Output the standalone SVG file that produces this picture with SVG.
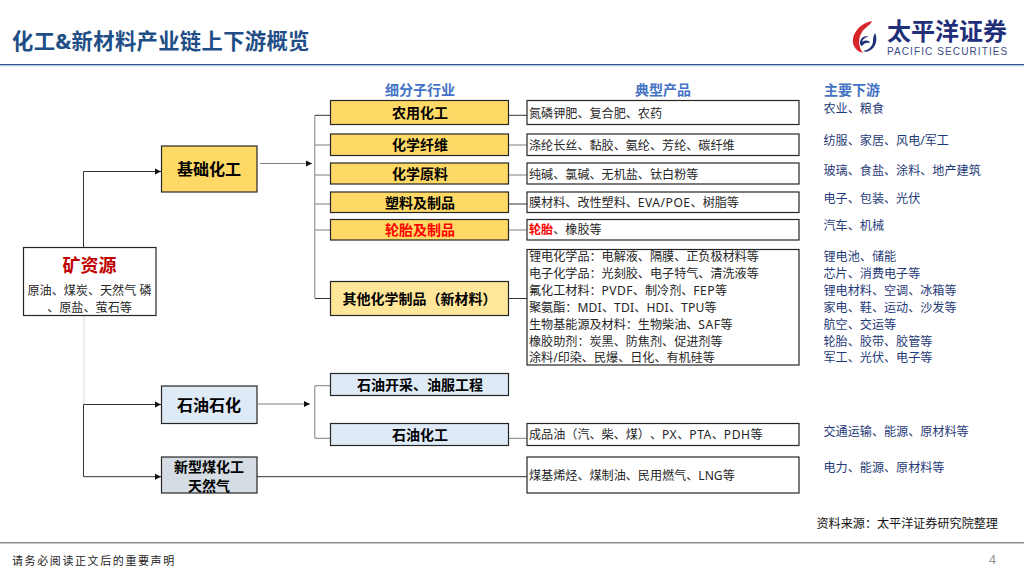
<svg xmlns="http://www.w3.org/2000/svg" width="1024" height="576" viewBox="0 0 1024 576">
<style>
text{font-family:"Noto Sans","Noto Sans CJK SC",sans-serif;font-size:12.1px;fill:#262626;text-spacing-trim:space-all}
.title{font-size:21.3px;font-weight:700;fill:#1F4E86;letter-spacing:.35px}
.hd{font-size:14px;font-weight:700;fill:#4472C4;text-anchor:middle}
.n{font-size:14px;font-weight:700;fill:#000;text-anchor:middle}
.m{font-size:16px;font-weight:700;fill:#000;text-anchor:middle}
.d{fill:#1F3A78}
.box{stroke:#262626;stroke-width:1.2}
.y{fill:#FFD966}.ly{fill:#FFE699}.b{fill:#DEEAF6}.g{fill:#D5DCE4}.w{fill:#fff}
.c{fill:none;stroke:#333;stroke-width:1}
.c2{fill:none;stroke:#808080;stroke-width:1}
</style>
<defs><marker id="a" markerUnits="userSpaceOnUse" markerWidth="7" markerHeight="7" refX="6" refY="3.5" orient="auto"><path d="M0 .5L6 3.5L0 6.500Z" fill="#111"/></marker></defs>
<rect width="1024" height="576" fill="#fff"/>
<text class="title" x="12" y="48.500">化工&amp;新材料产业链上下游概览</text>
<rect x="0" y="64" width="1024" height="1.300" fill="#2F5597"/><rect x="0" y="65.300" width="1024" height="1" fill="#B4C7E7"/>
<g id="logo">
<path d="M872 21C858 24 850 36 854 46C856 50 859 52 863 53C858 47 858 38 862 32C865 27 870 26 872 21Z" fill="#D7252B"/>
<path d="M875 33C878 39 876 48 869 51C867 52 865 52 863 51C869 50 873 46 873 41C873 37 874 35 875 33Z" fill="#1F2F7A"/>
<path d="M860 43C860 38 865 35 869 37C865 37 863 39 862 42C865 40 869 40 870 43C867 42 864 43 862 46C861 46 860 45 860 43Z" fill="#1F2F7A"/>
<text x="887" y="40" style="font-size:24px;font-weight:700;fill:#1F2F7A;font-family:'Noto Sans CJK SC',sans-serif">太平洋证券</text>
<text x="887" y="54.500" style="font-size:10px;fill:#3A4A86;letter-spacing:1.100px;font-family:'Liberation Sans',sans-serif">PACIFIC SECURITIES</text>
</g>
<text class="hd" x="420" y="95">细分子行业</text>
<text class="hd" x="663" y="95">典型产品</text>
<text class="hd" x="852" y="95">主要下游</text>
<g id="connectors">
<path class="c" d="M83.500 247V171.500H161" marker-end="url(#a)"/>
<path d="M84 315.500V404" fill="none" stroke="#EDEDED" stroke-width="2"/>
<path class="c" d="M83.500 404.500V476.700H161" marker-end="url(#a)"/>
<path class="c" d="M83.500 404.500H161" marker-end="url(#a)"/>
<path class="c2" d="M260 163.500H312" marker-end="url(#a)"/>
<path class="c2" d="M258 404H310" marker-end="url(#a)"/>
<path class="c2" d="M314.800 115.300V298.500"/>
<path class="c" d="M315 115.300H330M315 298.500H330"/>
<path class="c2" d="M315 145H330M315 175H330M315 204H330M315 230H330"/>
<path class="c2" d="M314.800 385.700V438.300M315 385.700H330M315 438.300H330"/>
<path class="c" d="M509 115.300H527M509 204H527M509 298.500H527"/>
<path class="c2" d="M509 145H527M509 175H527M509 230H527M509 438.300H527"/>
<path class="c" d="M257 476.700H527"/>
</g>
<g id="n-source"><rect class="box w" x="23.500" y="247.500" width="132.500" height="68"/><text class="m" x="89.500" y="271.500" style="fill:#C00000;font-size:18px">矿资源</text><text x="89.500" y="295" text-anchor="middle">原油、煤炭、天然气 磷</text><text x="89.500" y="311.500" text-anchor="middle">、原盐、萤石等</text></g>
<g id="n-basic"><rect class="box y" x="161.500" y="146" width="95.500" height="46"/><text class="m" x="209" y="174.500">基础化工</text></g>
<g id="n-petro"><rect class="box b" x="161.500" y="386" width="95.500" height="37.500"/><text class="m" x="209" y="410.500">石油石化</text></g>
<g id="n-coal"><rect class="box g" x="161.500" y="457" width="95.500" height="36"/><text class="n" x="209" y="471.500">新型煤化工</text><text class="n" x="209" y="490.500">天然气</text></g>
<g id="n-agri"><rect class="box y" x="330.500" y="100.500" width="178" height="24"/><text class="n" x="420" y="118">农用化工</text></g>
<g id="n-fiber"><rect class="box y" x="330.500" y="134" width="178" height="21.500"/><text class="n" x="420" y="150">化学纤维</text></g>
<g id="n-raw"><rect class="box y" x="330.500" y="163" width="178" height="21"/><text class="n" x="420" y="179">化学原料</text></g>
<g id="n-plastic"><rect class="box y" x="330.500" y="192" width="178" height="20.500"/><text class="n" x="420" y="207.500">塑料及制品</text></g>
<g id="n-tire"><rect class="box y" x="330.500" y="219.500" width="178" height="20.500"/><text class="n" x="420" y="235" style="fill:#FF0000">轮胎及制品</text></g>
<g id="n-other"><rect class="box ly" x="330.500" y="281.500" width="178" height="34"/><text class="n" x="419.500" y="304">其他化学制品（新材料）</text></g>
<g id="n-oilex"><rect class="box b" x="330.500" y="373.500" width="178" height="22"/><text class="n" x="420" y="389.500">石油开采、油服工程</text></g>
<g id="n-oilchem"><rect class="box b" x="330.500" y="423.500" width="178" height="22"/><text class="n" x="420" y="440">石油化工</text></g>
<g id="p-agri"><rect class="box w" x="527" y="100.500" width="272" height="24"/><text x="529" y="118">氮磷钾肥、复合肥、农药</text></g>
<g id="p-fiber"><rect class="box w" x="527" y="134" width="272" height="21.500"/><text x="529" y="149.500">涤纶长丝、黏胶、氨纶、芳纶、碳纤维</text></g>
<g id="p-raw"><rect class="box w" x="527" y="163" width="272" height="21"/><text x="529" y="178.500">纯碱、氯碱、无机盐、钛白粉等</text></g>
<g id="p-plastic"><rect class="box w" x="527" y="192" width="272" height="20.500"/><text x="529" y="206.500">膜材料、改性塑料、<tspan style="letter-spacing:.5px">EVA/POE</tspan>、树脂等</text></g>
<g id="p-tire"><rect class="box w" x="527" y="219.500" width="272" height="20.500"/><text x="529" y="234"><tspan style="fill:#FF0000;font-weight:700">轮胎</tspan>、橡胶等</text></g>
<g id="p-other"><rect class="box w" x="527" y="249.500" width="272" height="115.500"/>
<text x="529" y="261">锂电化学品：电解液、隔膜、正负极材料等</text>
<text x="529" y="278">电子化学品：光刻胶、电子特气、清洗液等</text>
<text x="529" y="295">氟化工材料：<tspan style="letter-spacing:.4px">PVDF</tspan>、制冷剂、<tspan style="letter-spacing:.4px">FEP</tspan>等</text>
<text x="529" y="312">聚氨酯：<tspan style="letter-spacing:.2px">MDI</tspan>、<tspan style="letter-spacing:.2px">TDI</tspan>、<tspan style="letter-spacing:.2px">HDI</tspan>、<tspan style="letter-spacing:.2px">TPU</tspan>等</text>
<text x="529" y="328.500">生物基能源及材料：生物柴油、<tspan style="letter-spacing:.5px">SAF</tspan>等</text>
<text x="529" y="345.500">橡胶助剂：炭黑、防焦剂、促进剂等</text>
<text x="529" y="362">涂料/印染、民爆、日化、有机硅等</text></g>
<g id="p-oilchem"><rect class="box w" x="527" y="423.500" width="272" height="22"/><text x="529" y="439">成品油（汽、柴、煤）、<tspan style="letter-spacing:.5px">PX</tspan>、<tspan style="letter-spacing:.5px">PTA</tspan>、<tspan style="letter-spacing:.5px">PDH</tspan>等</text></g>
<g id="p-coal"><rect class="box w" x="527" y="457" width="272" height="36"/><text x="529" y="480">煤基烯烃、煤制油、民用燃气、LNG等</text></g>
<g id="downstream">
<text class="d" x="823.500" y="112.500">农业、粮食</text>
<text class="d" x="823.500" y="145">纺服、家居、风电/军工</text>
<text class="d" x="823.500" y="174.500">玻璃、食盐、涂料、地产建筑</text>
<text class="d" x="823.500" y="202.500">电子、包装、光伏</text>
<text class="d" x="823.500" y="230">汽车、机械</text>
<text class="d" x="823.500" y="260.500">锂电池、储能</text>
<text class="d" x="823.500" y="277.500">芯片、消费电子等</text>
<text class="d" x="823.500" y="294.500">锂电材料、空调、冰箱等</text>
<text class="d" x="823.500" y="311.500">家电、鞋、运动、沙发等</text>
<text class="d" x="823.500" y="328.500">航空、交运等</text>
<text class="d" x="823.500" y="345.500">轮胎、胶带、胶管等</text>
<text class="d" x="823.500" y="362">军工、光伏、电子等</text>
<text class="d" x="823.500" y="435.500">交通运输、能源、原材料等</text>
<text class="d" x="823.500" y="471.500">电力、能源、原材料等</text>
</g>
<text x="816.500" y="528" style="fill:#111">资料来源：太平洋证券研究院整理</text>
<rect x="0" y="542" width="1024" height="1.500" fill="#8C8C8C"/>
<text x="12" y="565" style="font-size:11px;letter-spacing:1.600px;fill:#222">请务必阅读正文后的重要声明</text>
<text x="989" y="564" style="fill:#8C8C8C">4</text>
</svg>
